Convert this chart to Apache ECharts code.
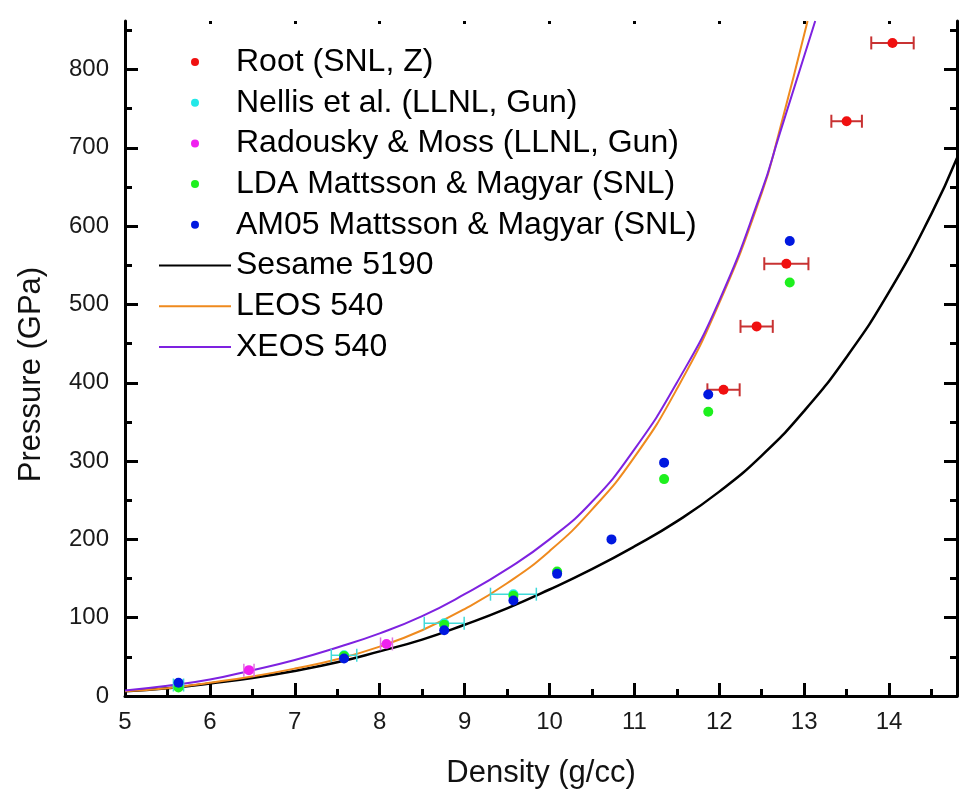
<!DOCTYPE html>
<html><head><meta charset="utf-8">
<script src="https://cdn.jsdelivr.net/npm/echarts@6/dist/echarts.min.js"></script>
<style>html,body{margin:0;padding:0;background:#fff}#c{width:965px;height:793px}</style>
</head><body><div id="c"></div>
<script>
// ---- tick labels ----
const xTicks = [5, 6, 7, 8, 9, 10, 11, 12, 13, 14];
const xMinorTicks = [5.5, 6.5, 7.5, 8.5, 9.5, 10.5, 11.5, 12.5, 13.5, 14.5];
const xTopTicks = [6, 7, 8, 9, 10, 11, 12, 13, 14];
const yTicks = [0, 100, 200, 300, 400, 500, 600, 700, 800];
const yMinorTicks = [50, 150, 250, 350, 450, 550, 650, 750, 850];

// ---- data series: [density, pressure, density error] ----
const rootData = [[12.05, 391, 0.19], [12.44, 472, 0.19], [12.79, 552, 0.26], [13.50, 734, 0.18], [14.04, 834, 0.25]];
const nellisData = [[5.63, 14, 0.06], [7.58, 52, 0.15], [8.76, 93, 0.235], [9.575, 130, 0.27]];
const radouskyData = [[6.46, 33, 0.06], [8.08, 66.5, 0.07]];
const ldaData = [[5.63, 11], [7.58, 51], [8.76, 91], [9.575, 128], [10.09, 159], [11.35, 277], [11.87, 363], [12.83, 528]];
const am05Data = [[5.63, 17], [7.58, 48], [8.76, 84], [9.575, 122], [10.09, 156], [10.73, 200], [11.35, 298], [11.87, 385], [12.83, 581]];

// ---- model curves: [density, pressure] ----
const sesameData = [[5.0, 6], [5.5, 10], [6.0, 16], [6.5, 23], [7.0, 32], [7.5, 43], [8.0, 57], [8.5, 72], [9.0, 91], [9.5, 112], [10.0, 136], [10.5, 162], [11.0, 191], [11.5, 223], [12.0, 261], [12.5, 307], [13.0, 364], [13.5, 433], [14.0, 516], [14.5, 616], [14.8, 687]];
const leosData = [[5.0, 6], [5.5, 10], [6.0, 17], [6.5, 25], [7.0, 35], [7.5, 47], [8.0, 63], [8.5, 84], [9.0, 111], [9.5, 144], [10.0, 185], [10.5, 238], [11.0, 305], [11.5, 392], [12.0, 502], [12.5, 642], [12.7, 718], [13.04, 862]];
const xeosData = [[5.0, 7], [5.5, 13], [6.0, 21], [6.5, 33], [7.0, 46], [7.5, 62], [8.0, 80], [8.5, 102], [9.0, 130], [9.5, 162], [10.0, 200], [10.5, 248], [11.0, 315], [11.5, 400], [12.0, 505], [12.5, 645], [12.7, 714], [13.13, 862]];

const FONT = '"Liberation Sans", Arial, sans-serif';
const X_MIN = 5, X_MAX = 14.8, Y_MIN = 0, Y_MAX = 862;

function errorBars(color, width) {
  return function (params, api) {
    const x = api.value(0), y = api.value(1), e = api.value(2);
    const l = api.coord([x - e, y]);
    const r = api.coord([x + e, y]);
    const h = 6.5;
    const st = { stroke: color, lineWidth: width };
    return {
      type: 'group',
      children: [
        { type: 'line', shape: { x1: l[0], y1: l[1], x2: r[0], y2: r[1] }, style: st },
        { type: 'line', shape: { x1: l[0], y1: l[1] - h, x2: l[0], y2: l[1] + h }, style: st },
        { type: 'line', shape: { x1: r[0], y1: r[1] - h, x2: r[0], y2: r[1] + h }, style: st }
      ]
    };
  };
}

const axisLineStyle = { color: '#000', width: 3 };
function xAxisBase(extra) {
  return Object.assign({
    type: 'value', min: X_MIN, max: X_MAX, gridIndex: 0,
    axisLine: { show: false, onZero: false },
    axisLabel: { show: false },
    splitLine: { show: false }
  }, extra);
}
function yAxisBase(extra) {
  return Object.assign({
    type: 'value', min: Y_MIN, max: Y_MAX, gridIndex: 0,
    axisLine: { show: false, onZero: false },
    axisLabel: { show: false },
    splitLine: { show: false }
  }, extra);
}

const colors = {
  root: '#f01010', rootErr: '#c83232',
  nellis: '#22e8e8', nellisErr: '#40dada',
  radousky: '#f020f0', radouskyErr: '#e070e0',
  lda: '#1ef01e', am05: '#0018e0',
  sesame: '#000000', leos: '#ef8a1e', xeos: '#7e22e0'
};

const chart = echarts.init(document.getElementById('c'), null, { renderer: 'canvas' });
chart.setOption({
  backgroundColor: '#fff',
  animation: false,
  grid: { left: 125, right: 8, top: 21, bottom: 97, containLabel: false, outerBoundsMode: 'none' },
  legend: {
    orient: 'vertical', left: 153, top: 41,
    itemWidth: 72, itemHeight: 8, itemGap: 8.7,
    selectedMode: false,
    textStyle: { fontSize: 32, lineHeight: 32, color: '#000', fontFamily: FONT },
    data: ['Root (SNL, Z)', 'Nellis et al. (LLNL, Gun)', 'Radousky & Moss (LLNL, Gun)',
      'LDA Mattsson & Magyar (SNL)', 'AM05 Mattsson & Magyar (SNL)',
      { name: 'Sesame 5190', itemStyle: { opacity: 0 } },
      { name: 'LEOS 540', itemStyle: { opacity: 0 } },
      { name: 'XEOS 540', itemStyle: { opacity: 0 } }]
  },
  xAxis: [
    xAxisBase({
      position: 'bottom',
      axisLine: { show: true, onZero: false, lineStyle: axisLineStyle },
      axisTick: { show: true, inside: true, length: 13, customValues: xTicks, lineStyle: { color: '#000', width: 3 } },
      axisLabel: { show: true, customValues: xTicks, fontSize: 24, color: '#1a1a1a', margin: 14, fontFamily: FONT },
      name: 'Density (g/cc)', nameLocation: 'middle', nameGap: 62,
      nameTextStyle: { fontSize: 31, color: '#111', fontFamily: FONT }
    }),
    xAxisBase({
      position: 'bottom',
      axisTick: { show: true, inside: true, length: 7, customValues: xMinorTicks, lineStyle: { color: '#000', width: 3 } }
    }),
    xAxisBase({
      position: 'top',
      axisTick: { show: true, inside: true, length: 3, customValues: xTopTicks, lineStyle: { color: '#000', width: 3 } }
    })
  ],
  yAxis: [
    yAxisBase({
      position: 'left',
      axisLine: { show: true, onZero: false, lineStyle: axisLineStyle },
      axisTick: { show: true, inside: true, length: 13, customValues: yTicks, lineStyle: { color: '#000', width: 3 } },
      axisLabel: { show: true, customValues: yTicks, fontSize: 24, color: '#1a1a1a', margin: 16, fontFamily: FONT },
      name: 'Pressure (GPa)', nameLocation: 'middle', nameGap: 78, nameRotate: 90, nameMoveOverlap: false,
      nameTextStyle: { fontSize: 31, color: '#111', fontFamily: FONT, padding: [0, 32, 0, 0] }
    }),
    yAxisBase({
      position: 'left',
      axisTick: { show: true, inside: true, length: 7, customValues: yMinorTicks, lineStyle: { color: '#000', width: 3 } }
    }),
    yAxisBase({
      position: 'right',
      axisLine: { show: true, onZero: false, lineStyle: axisLineStyle },
      axisTick: { show: true, inside: true, length: 13, customValues: yTicks, lineStyle: { color: '#000', width: 3 } }
    }),
    yAxisBase({
      position: 'right',
      axisTick: { show: true, inside: true, length: 7, customValues: yMinorTicks, lineStyle: { color: '#000', width: 3 } }
    })
  ],
  series: [
    { name: 'Sesame 5190', type: 'line', data: sesameData, smooth: true, symbol: 'none', color: colors.sesame,
      lineStyle: { color: colors.sesame, width: 2.5 }, z: 2 },
    { name: 'LEOS 540', type: 'line', data: leosData, smooth: true, symbol: 'none', color: colors.leos,
      lineStyle: { color: colors.leos, width: 2 }, z: 2 },
    { name: 'XEOS 540', type: 'line', data: xeosData, smooth: true, symbol: 'none', color: colors.xeos,
      lineStyle: { color: colors.xeos, width: 2 }, z: 2 },

    { name: 'nellisErr', type: 'custom', data: nellisData, renderItem: errorBars(colors.nellisErr, 1.5),
      encode: { x: 0, y: 1 }, z: 3, silent: true },
    { name: 'Nellis et al. (LLNL, Gun)', type: 'scatter', data: nellisData, symbol: 'circle', symbolSize: 10,
      color: colors.nellis, itemStyle: { color: colors.nellis, opacity: 1 }, z: 4 },

    { name: 'radouskyErr', type: 'custom', data: radouskyData, renderItem: errorBars(colors.radouskyErr, 1.5),
      encode: { x: 0, y: 1 }, z: 3, silent: true },
    { name: 'Radousky & Moss (LLNL, Gun)', type: 'scatter', data: radouskyData, symbol: 'circle', symbolSize: 10,
      color: colors.radousky, itemStyle: { color: colors.radousky, opacity: 1 }, z: 4 },

    { name: 'LDA Mattsson & Magyar (SNL)', type: 'scatter', data: ldaData, symbol: 'circle', symbolSize: 10,
      color: colors.lda, itemStyle: { color: colors.lda, opacity: 1 }, z: 5 },
    { name: 'AM05 Mattsson & Magyar (SNL)', type: 'scatter', data: am05Data, symbol: 'circle', symbolSize: 10,
      color: colors.am05, itemStyle: { color: colors.am05, opacity: 1 }, z: 6 },

    { name: 'rootErr', type: 'custom', data: rootData, renderItem: errorBars(colors.rootErr, 2),
      encode: { x: 0, y: 1 }, z: 6, silent: true },
    { name: 'Root (SNL, Z)', type: 'scatter', data: rootData, symbol: 'circle', symbolSize: 10,
      color: colors.root, itemStyle: { color: colors.root, opacity: 1 }, z: 7 }
  ]
});
</script>
</body></html>
